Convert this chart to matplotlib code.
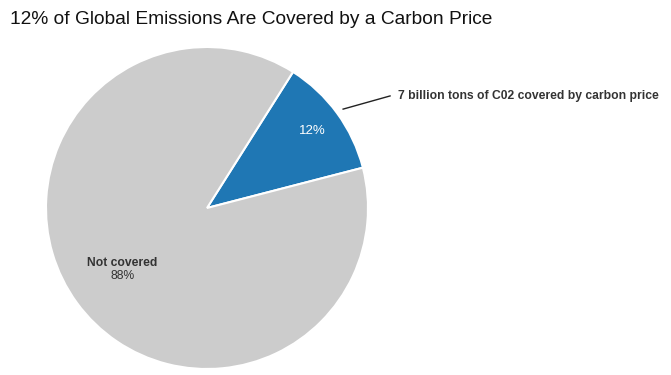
import numpy as np
import matplotlib.pyplot as plt

plt.rcParams['font.family'] = ['Liberation Sans', 'DejaVu Sans']

labels = ['Covered', 'Not covered']
shares = [12, 88]
colors = ['#1f77b4', '#cccccc']
callout = '7 billion tons of C02 covered by carbon price'
title = '12% of Global Emissions Are Covered by a Carbon Price'

W, H = 671, 375
fig = plt.figure(figsize=(W / 100, H / 100), dpi=100)

# pie centre and radius in pixels
cx, cy, r = 207, 208, 161
ax = fig.add_axes([(cx - r) / W, (H - cy - r) / H, 2 * r / W, 2 * r / H])

wedges, _ = ax.pie(shares, colors=colors, startangle=14.5, counterclock=True,
                   radius=1, wedgeprops=dict(edgecolor='white', linewidth=1.5))
ax.set_xlim(-1, 1)
ax.set_ylim(-1, 1)
ax.axis('off')

def mid(w):
    return np.deg2rad((w.theta1 + w.theta2) / 2)

# covered slice label
a = mid(wedges[0])
ax.text(0.81 * np.cos(a), 0.81 * np.sin(a), f'{shares[0]}%', color='white',
        fontsize=9.5, ha='center', va='center')

# callout line + text
p0 = (1.045 * np.cos(np.deg2rad(36.0)), 1.045 * np.sin(np.deg2rad(36.0)))
p1 = (1.137, 0.696)
ax.plot([p0[0], p1[0]], [p0[1], p1[1]], color='#222222', lw=1, clip_on=False)
ax.text(1.186, 0.696, callout, fontsize=8.7, fontweight='bold', color='#333333',
        ha='left', va='center', clip_on=False)

# not covered label
a = mid(wedges[1])
x, y = 0.65 * np.cos(a), 0.65 * np.sin(a)
ax.text(x, y + 0.04, labels[1], fontsize=8.7, fontweight='bold', color='#333333',
        ha='center', va='center')
ax.text(x, y - 0.04, f'{shares[1]}%', fontsize=8.7, color='#333333',
        ha='center', va='center')

fig.text(10 / W, 1 - 20 / H, title, fontsize=13.8, ha='left', va='center', color='#111111')

fig.savefig('out.png', dpi=100)
